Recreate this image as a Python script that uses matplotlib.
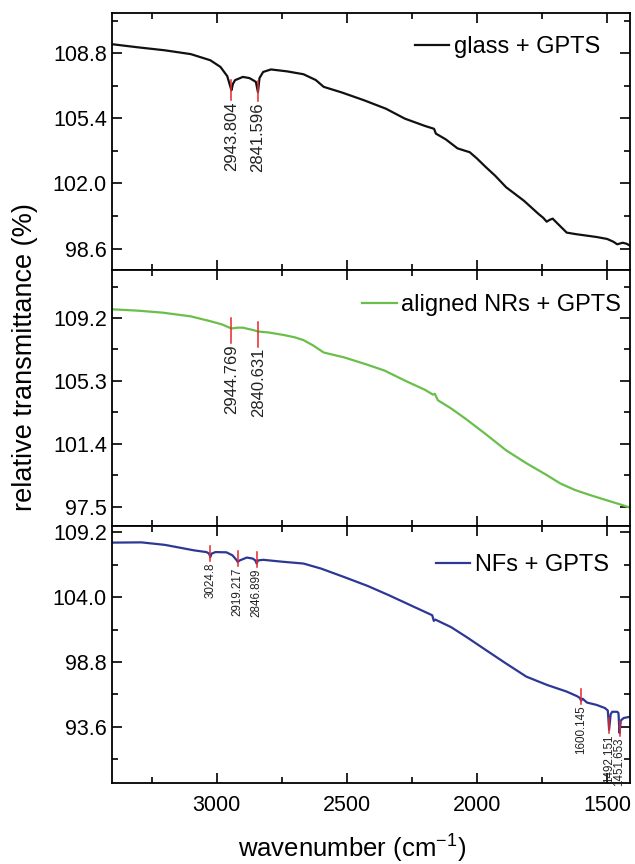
import numpy as np
import matplotlib
matplotlib.use("Agg")
import matplotlib.pyplot as plt
from matplotlib.ticker import MultipleLocator, FormatStrFormatter

plt.rcParams['font.family'] = ['Liberation Sans', 'DejaVu Sans']
plt.rcParams['mathtext.fontset'] = 'custom'
plt.rcParams['mathtext.rm'] = 'Liberation Sans'
plt.rcParams['mathtext.it'] = 'Liberation Sans'
plt.rcParams['mathtext.default'] = 'regular'

# spectra (wavenumber in cm-1, relative transmittance in %)
glass_wn = [3404, 3300, 3200, 3100, 3025, 2986, 2960, 2947, 2944, 2938, 2930, 2900, 2875,
            2862, 2850, 2842, 2836, 2822, 2792, 2730, 2667, 2620, 2589, 2520, 2434,
            2350, 2277, 2200, 2165, 2158, 2120, 2075, 2045, 2028, 2000, 1966, 1930,
            1888, 1820, 1763, 1745, 1732, 1720, 1709, 1690, 1655, 1620, 1577, 1540,
            1500, 1475, 1461, 1440, 1425, 1412]
glass_tr = [109.27, 109.1, 108.95, 108.75, 108.43, 108.08, 107.6, 107.0, 106.86, 107.2,
            107.39, 107.56, 107.5, 107.4, 107.3, 106.77, 107.5, 107.82, 107.95, 107.85,
            107.7, 107.4, 107.04, 106.75, 106.34, 105.9, 105.38, 105.0, 104.85, 104.6,
            104.3, 103.83, 103.7, 103.63, 103.3, 102.85, 102.4, 101.8, 101.1, 100.4,
            100.2, 100.0, 100.1, 100.16, 99.9, 99.43, 99.35, 99.27, 99.2, 99.1, 98.95,
            98.82, 98.9, 98.85, 98.75]

nrs_wn = [3404, 3300, 3208, 3100, 3025, 2980, 2947, 2944, 2920, 2900, 2860, 2841, 2800,
          2744, 2700, 2667, 2630, 2589, 2511, 2430, 2355, 2277, 2200, 2169, 2162,
          2150, 2100, 2044, 1966, 1888, 1810, 1732, 1680, 1623, 1560, 1500, 1440,
          1412]
nrs_tr = [109.74, 109.65, 109.53, 109.3, 109.0, 108.8, 108.57, 108.55, 108.6, 108.6,
          108.45, 108.36, 108.3, 108.15, 108.0, 107.83, 107.5, 107.06, 106.76, 106.35,
          105.94, 105.32, 104.75, 104.45, 104.5, 104.1, 103.6, 102.96, 102.0, 101.0,
          100.2, 99.47, 98.95, 98.54, 98.2, 97.9, 97.6, 97.45]

nfs_wn = [3404, 3290, 3200, 3088, 3040, 3030, 3025, 3020, 3005, 2963, 2940, 2925, 2920,
          2912, 2885, 2862, 2852, 2847, 2842, 2822, 2750, 2667, 2600, 2511, 2420,
          2339, 2250, 2172, 2166, 2160, 2100, 2040, 1966, 1890, 1810, 1730, 1655,
          1615, 1604, 1600, 1594, 1577, 1540, 1508, 1497, 1492, 1486, 1480, 1461,
          1456, 1452, 1447, 1436, 1412]
nfs_tr = [108.38, 108.4, 108.2, 107.76, 107.62, 107.5, 107.22, 107.5, 107.62, 107.6,
          107.36, 107.0, 106.83, 106.95, 107.18, 107.1, 106.95, 106.7, 106.95, 107.0,
          106.85, 106.7, 106.3, 105.62, 104.9, 104.16, 103.3, 102.55, 102.1, 102.2,
          101.6, 100.8, 99.76, 98.7, 97.62, 96.95, 96.42, 96.05, 95.9, 95.7, 95.85,
          95.54, 95.35, 95.1, 94.9, 93.36, 94.6, 94.8, 94.8, 94.7, 93.1, 94.1, 94.3,
          94.4]

glass_peaks = ['2943.804', '2841.596']
nrs_peaks = ['2944.769', '2840.631']
nfs_peaks = ['3024.8', '2919.217', '2846.899', '1600.145', '1492.151', '1451.653']

names = ['glass + GPTS', 'aligned NRs + GPTS', 'NFs + GPTS']
colors = ['#111111', '#6abf4b', '#2d3895']
y_ticks = [[98.6, 102.0, 105.4, 108.8],
           [97.5, 101.4, 105.3, 109.2],
           [93.6, 98.8, 104.0, 109.2]]
y_lims = [(97.5, 110.9), (96.3, 112.2), (89.1, 109.7)]
x_ticks = [3000, 2500, 2000, 1500]

spectra = [(glass_wn, glass_tr, glass_peaks),
           (nrs_wn, nrs_tr, nrs_peaks),
           (nfs_wn, nfs_tr, nfs_peaks)]
peak_font = [12, 12, 8.4]
mark_px = [(10, 10), (10, 15), (11, 4)]   # red tick length above / below the curve
legend_anchor = [(0.942, 0.867), (0.983, 0.86), (0.959, 0.848)]

fig, axes = plt.subplots(3, 1, sharex=True, figsize=(6.35, 8.64), dpi=100)
fig.subplots_adjust(left=0.176, right=0.992, top=0.985, bottom=0.094, hspace=0)

for i, ax in enumerate(axes):
    wn, tr, peaks = spectra[i]
    ax.plot(wn, tr, color=colors[i], lw=1.6, label=names[i])
    lo, hi = y_lims[i]
    ax.set_ylim(lo, hi)
    ax.set_yticks(y_ticks[i])
    ax.yaxis.set_minor_locator(MultipleLocator((y_ticks[i][1] - y_ticks[i][0]) / 2))
    ax.yaxis.set_major_formatter(FormatStrFormatter('%.1f'))

    # peak markers: short red tick through the curve, value written below it
    ax_px = ax.get_position().height * fig.get_figheight() * fig.dpi
    per_px = (hi - lo) / ax_px
    up, down = mark_px[i]
    wn_sorted = np.array(wn)[::-1]
    tr_sorted = np.array(tr)[::-1]
    for label in peaks:
        p = float(label)
        yv = np.interp(p, wn_sorted, tr_sorted)
        ax.plot([p, p], [yv + up * per_px, yv - down * per_px], color='#e8262b', lw=1.1)
        ax.annotate(label, xy=(p, yv - down * per_px), xytext=(0, -1),
                    textcoords='offset points', rotation=90, ha='center', va='top',
                    fontsize=peak_font[i], color='#222222')

    ax.legend(loc='center right', bbox_to_anchor=legend_anchor[i], frameon=False,
              fontsize=17, handlelength=1.45, handletextpad=0.2, borderaxespad=0,
              borderpad=0)

    ax.tick_params(which='both', direction='in', top=True, right=True, width=1.2,
                   labelsize=15.5)
    ax.tick_params(which='major', length=7)
    ax.tick_params(which='minor', length=4)
    for s in ax.spines.values():
        s.set_linewidth(1.3)

axes[-1].set_xlim(3404, 1412)
axes[-1].set_xticks(x_ticks)
axes[-1].xaxis.set_minor_locator(MultipleLocator(250))
axes[-1].tick_params(axis='x', pad=9)
fig.text(0.555, 1 - 849 / 864, 'wavenumber (cm$^{-1}$)', fontsize=18.5,
         ha='center', va='center')
fig.text(0.04, 1 - 357 / 864, 'relative transmittance (%)', rotation=90, fontsize=19.5,
         ha='center', va='center')

fig.savefig('out.png', dpi=100)
